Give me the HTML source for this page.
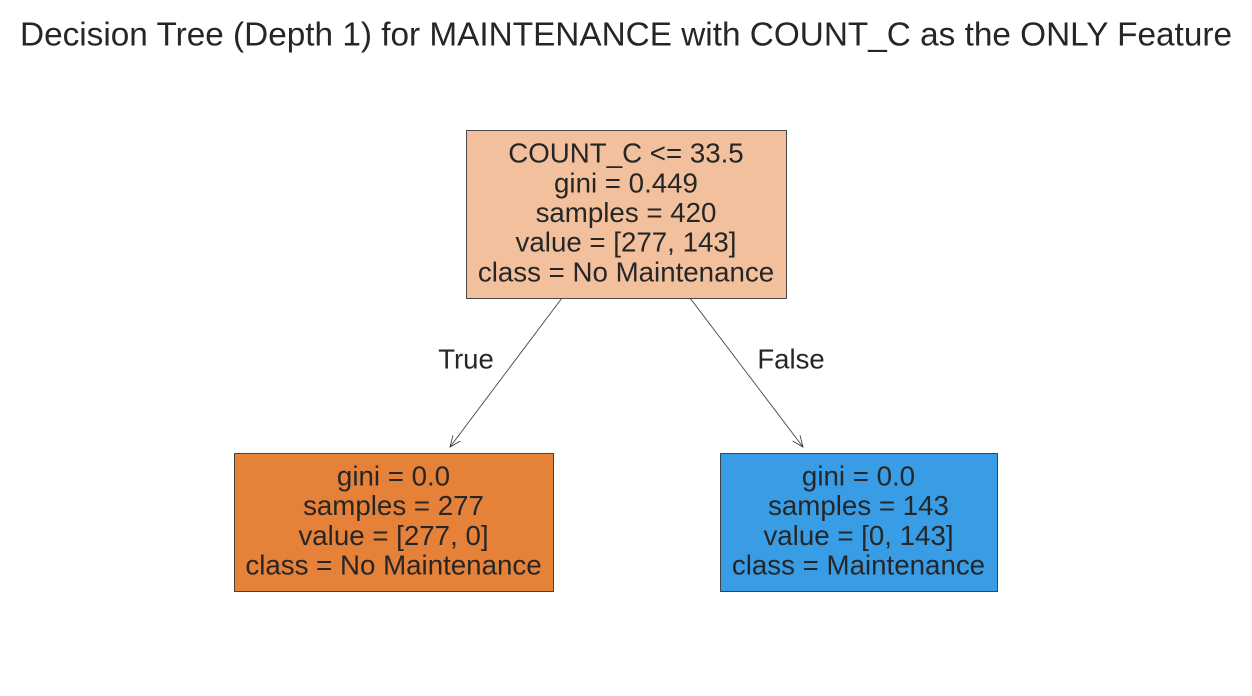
<!DOCTYPE html>
<html><head><meta charset="utf-8">
<style>
html,body{margin:0;padding:0;background:#fff;}
svg{display:block;font-family:"Liberation Sans",Arial,sans-serif;}
</style></head>
<body>
<svg id="chart" width="1252" height="696" viewBox="0 0 1252 696">
<text x="626" y="34" text-anchor="middle" dominant-baseline="central" font-size="29" textLength="1212" lengthAdjust="spacingAndGlyphs" fill="#262626" style="font-size:33px">Decision Tree (Depth 1) for MAINTENANCE with COUNT_C as the ONLY Feature</text>
</svg>
<script>
const nodeNames = ['root-node','left-leaf-node','right-leaf-node'];
const nodeLines = [
  ['COUNT_C <= 33.5','gini = 0.449','samples = 420','value = [277, 143]','class = No Maintenance'],
  ['gini = 0.0','samples = 277','value = [277, 0]','class = No Maintenance'],
  ['gini = 0.0','samples = 143','value = [0, 143]','class = Maintenance']
];
const nodeFills = ['#f2c09c','#e58139','#399de5'];
const boxes = [[466,130,320,168],[234,453,319,138],[720,453,277,138]];
const edges = [[0,1,'True'],[0,2,'False']];
const edgeGeom = [[562,298,450,447,466,359],[690,298,803,447,791,359]];
const svg = document.getElementById('chart');
const NS = 'http://www.w3.org/2000/svg';
function mk(tag, attrs){const e=document.createElementNS(NS,tag);for(const k in attrs)e.setAttribute(k,attrs[k]);return e;}
edges.forEach((ed,i)=>{
  const g=edgeGeom[i];
  const l=mk('line',{x1:g[0],y1:g[1],x2:g[2],y2:g[3],stroke:'#333','stroke-width':0.8});
  
  
  svg.appendChild(l);
  const ang=Math.atan2(g[3]-g[1],g[2]-g[0]);
  const L=12,w=0.4;
  const p=mk('polyline',{points:`${g[2]-L*Math.cos(ang-w)},${g[3]-L*Math.sin(ang-w)} ${g[2]},${g[3]} ${g[2]-L*Math.cos(ang+w)},${g[3]-L*Math.sin(ang+w)}`,fill:'none',stroke:'#333','stroke-width':0.8});
  
  
  svg.appendChild(p);
  const t=mk('text',{x:g[4],y:g[5],'text-anchor':'middle','dominant-baseline':'central','font-size':27.5,fill:'#262626'});
  t.textContent=ed[2];
  
  
  svg.appendChild(t);
});
nodeLines.forEach((lines,i)=>{
  const b=boxes[i];
  const r=mk('rect',{x:b[0]+0.5,y:b[1]+0.5,width:b[2],height:b[3],fill:nodeFills[i],stroke:'#222','stroke-width':0.8});
  
  
  svg.appendChild(r);
  const cx=b[0]+b[2]/2, cy=b[1]+b[3]/2, lh=29.7;
  lines.forEach((s,j)=>{
    const t=mk('text',{x:cx,y:cy+(j-(lines.length-1)/2)*lh-1.5,'text-anchor':'middle','dominant-baseline':'central','font-size':27.7,fill:'#262626'});
    t.textContent=s;
    
    
    svg.appendChild(t);
  });
});
</script>
</body></html>
